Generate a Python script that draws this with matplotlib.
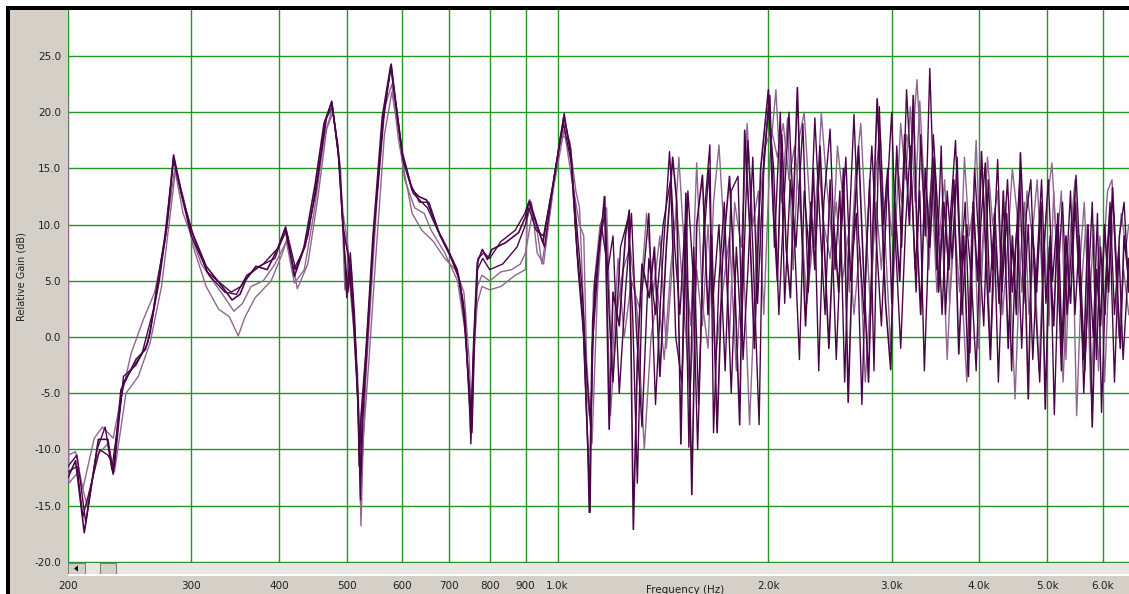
import numpy as np
import matplotlib.pyplot as plt
from matplotlib.patches import Rectangle, Polygon

# measured responses, frequency in Hz and relative gain in dB
freq_a = [200, 205, 211, 221, 228, 232, 238, 250, 258, 262, 268, 276, 283, 290, 300, 315, 332, 343, 352, 359,
          371, 385, 398, 409, 421, 434, 451, 464, 476, 486, 494, 503, 511, 519, 521, 524, 533, 545, 562, 578,
          591, 601, 620, 634, 650, 675, 697, 719, 733, 747, 753, 759, 768, 781, 794, 806, 843, 880, 900, 910,
          931, 953, 986, 1021, 1044, 1066, 1087, 1105, 1110, 1120, 1144, 1168,
          1185, 1200, 1225, 1250, 1266, 1283, 1300, 1320, 1352, 1375, 1400, 1430, 1460, 1480, 1500, 1525, 1555,
          1580, 1610, 1640, 1660, 1690, 1720, 1760, 1790, 1820, 1850, 1880, 1910, 1950, 2000, 2030, 2060, 2090,
          2120, 2150, 2200, 2230, 2260, 2300, 2330, 2370, 2400, 2440, 2480, 2520, 2560, 2600, 2640, 2690, 2730,
          2780, 2820, 2860, 2900, 2940, 2990, 3030, 3080, 3130, 3180, 3220, 3260, 3300, 3350, 3400, 3450, 3500,
          3560, 3620, 3680, 3740, 3800, 3860, 3920, 3980, 4030, 4090, 4150, 4210, 4270, 4330, 4400, 4460, 4520,
          4580, 4640, 4700, 4760, 4830, 4900, 4970, 5040, 5110, 5180, 5250, 5320, 5400, 5480, 5560, 5640, 5720,
          5800, 5880, 5960, 6040, 6120, 6200, 6280, 6360, 6440, 6540]
gain_a = [-12.5, -11.0, -17.4, -9.1, -9.1, -12.2, -4.7, -2.0, -1.1, 0.4, 4.5, 9.3, 16.2, 13.0, 9.5, 6.3, 4.5, 3.3, 3.8, 5.1,
          6.3, 6.0, 7.8, 9.8, 5.4, 7.8, 13.7, 19.0, 20.9, 16.7, 9.8, 7.1, 1.8, -5.6, -11.5, -7.1, -1.1, 8.9, 19.6, 24.2,
          19.6, 16.0, 13.1, 12.5, 12.2, 9.5, 7.8, 6.0, 3.1, -4.0, -7.1, -0.5, 6.6, 7.8, 6.9, 7.8, 8.4, 9.3, 10.7, 12.0,
          10.2, 8.4, 13.7, 19.6, 16.7, 7.8, 1.8, -10.0, -15.6, -1.1, 7.1, 12.5,
          -8.2, 4.0, 1.0, 9.0, 11.3, -17.1, -2.0, 6.5, 3.5, 8.0, -3.5, 8.0, 16.0, 12.0, -9.5, 12.8, -14.0,
          10.0, 14.4, 2.0, 9.0, -8.5, 7.0, 14.3, 5.0, -7.8, 18.4, 10.0, -1.0, 15.0, 22.0, 12.0, 5.0, 18.0,
          8.0, 3.5, 22.2, 10.0, 1.0, 12.0, 6.0, 17.0, 9.0, -1.0, 10.0, 4.0, 15.0, -5.8, 8.0, 17.0, 7.0,
          -4.0, 10.0, 21.2, 12.0, 3.0, -2.9, 12.0, 5.0, 18.0, 10.0, 21.5, 9.0, 2.0, 15.0, 8.0, 16.0, 4.0,
          12.0, 6.0, 14.0, -1.5, 9.0, -3.5, 12.0, 5.0, 16.5, 7.0, -2.0, 11.0, 3.0, 13.0, -1.0, 9.0, 2.0,
          16.4, 8.0, -5.5, 10.0, 4.0, 12.0, -6.4, 8.0, 1.0, 11.0, -1.0, 9.0, 3.0, 12.0, 5.0, -2.0, 10.0,
          -8.0, 6.0, 1.0, 10.0, 4.0, 13.3, 6.0, -1.0, 9.0, 5.0]

freq_b = [200, 206, 212, 220, 226, 231, 240, 255, 265, 275, 283, 292, 300, 318, 335, 348, 360, 380, 400, 410,
          423, 440, 455, 468, 477, 488, 496, 502, 507, 515, 520, 523, 527, 535, 548, 565, 579, 592, 603, 622,
          640, 652, 680, 700, 722, 738, 749, 755, 762, 770, 785, 800, 830, 870, 898, 912, 935, 958, 990, 1020,
          1046, 1070, 1090, 1108, 1113, 1122, 1150, 1170,
          1185, 1200, 1230, 1260, 1280, 1300, 1320, 1350, 1380, 1410, 1445, 1470, 1495, 1520, 1540, 1565, 1590,
          1620, 1650, 1670, 1700, 1730, 1770, 1800, 1830, 1870, 1900, 1940, 1970, 2010, 2040, 2080, 2110, 2150,
          2190, 2240, 2280, 2320, 2360, 2400, 2450, 2490, 2530, 2570, 2610, 2650, 2690, 2740, 2790, 2830, 2880,
          2920, 2960, 3000, 3050, 3100, 3150, 3200, 3250, 3300, 3350, 3400, 3440, 3480, 3530, 3580, 3640, 3700,
          3760, 3820, 3880, 3940, 4000, 4060, 4120, 4180, 4250, 4310, 4380, 4450, 4510, 4570, 4630, 4700, 4770,
          4840, 4910, 4980, 5050, 5120, 5190, 5260, 5340, 5420, 5500, 5580, 5660, 5740, 5820, 5900, 5980, 6060,
          6150, 6240, 6330, 6420, 6540]
gain_b = [-11.5, -10.5, -16.5, -10.0, -8.0, -11.8, -4.0, -1.5, 2.5, 9.0, 15.8, 12.0, 9.0, 5.5, 4.0, 3.8, 5.5, 6.5, 8.0, 9.5,
          6.0, 9.0, 14.5, 19.5, 20.5, 15.5, 8.0, 4.0, 6.5, -1.0, -8.0, -12.5, -6.0, 0.5, 10.0, 20.0, 24.3, 19.0, 15.5, 12.8,
          12.0, 11.5, 9.0, 7.5, 5.5, 1.0, -6.0, -8.5, 1.0, 7.0, 7.5, 7.0, 8.5, 9.5, 11.0, 12.2, 10.0, 8.0, 14.5, 19.0,
          15.5, 6.0, 0.0, -12.0, -15.6, 1.5, 9.0, 11.0,
          2.0, -4.0, 8.0, 10.5, 2.0, -13.0, 4.0, 11.0, -6.0, 6.0, 16.5, 8.0, 2.0, 10.0, -9.8, 8.0, -6.0,
          11.0, 17.1, -8.5, 5.0, 12.0, -5.0, 8.0, 0.0, 17.5, 8.0, -7.8, 16.0, 21.5, 8.0, 20.0, 3.0, 14.0,
          8.0, 19.0, 4.0, 15.0, -3.0, 12.0, 18.5, 6.0, 13.0, -4.0, 10.0, 19.8, 9.0, 2.0, 14.0, -3.0, 20.5,
          10.0, 15.0, 3.0, 17.0, 8.0, 22.0, 14.0, 4.0, 18.0, 9.0, 23.9, 14.0, 6.0, 17.0, 2.0, 11.0, 17.5,
          6.0, 12.0, -1.4, 15.0, 8.0, 1.0, 14.0, 6.0, 15.8, 4.0, 11.0, -3.0, 8.0, 14.0, 3.0, 10.0, -2.0,
          7.0, 14.0, 3.0, 9.0, -6.9, 6.0, 12.0, 2.0, 8.0, 14.4, 6.0, -3.0, 7.0, 0.0, 11.0, -6.7, 5.0,
          12.0, 2.0, 8.0, -2.0, 7.0]

freq_c = [200, 200.5, 207, 213, 220, 228, 233, 242, 252, 262, 272, 280, 285, 292, 302, 315, 328, 340, 350, 358,
          370, 390, 405, 412, 425, 440, 455, 468, 478, 490, 497, 503, 512, 520, 524, 528, 538, 550, 566, 580,
          594, 605, 625, 645, 660, 690, 720, 740, 752, 758, 768, 780, 800, 830, 870, 900, 905, 918, 935, 955,
          985, 1022, 1048, 1075, 1090, 1100, 1120, 1140, 1165,
          1190, 1215, 1240, 1270, 1300, 1330, 1360, 1390, 1420, 1450, 1480, 1510, 1545, 1580, 1610, 1640, 1680,
          1720, 1760, 1800, 1840, 1880, 1930, 1980, 2020, 2060, 2100, 2140, 2180, 2230, 2270, 2310, 2360, 2400,
          2450, 2500, 2550, 2600, 2650, 2700, 2750, 2800, 2850, 2900, 2950, 3000, 3050, 3100, 3150, 3200, 3260,
          3310, 3360, 3420, 3480, 3540, 3600, 3660, 3720, 3780, 3840, 3900, 3960, 4020, 4080, 4150, 4220, 4290,
          4360, 4430, 4500, 4570, 4640, 4710, 4790, 4870, 4950, 5030, 5110, 5190, 5270, 5350, 5430, 5510, 5590,
          5680, 5770, 5860, 5950, 6040, 6130, 6230, 6330, 6430, 6540]
gain_c = [21.3, -13.0, -12.0, -15.0, -10.5, -9.5, -12.0, -5.0, -3.5, -0.5, 4.5, 11.0, 15.0, 12.5, 8.0, 4.5, 2.5, 1.8, 0.1, 1.8,
          3.5, 5.0, 7.5, 9.0, 4.3, 6.5, 12.5, 18.5, 20.0, 15.0, 4.2, 6.0, 0.5, -7.0, -16.8, -9.0, -2.0, 7.0, 18.0, 21.8,
          18.0, 14.0, 11.5, 11.0, 9.5, 7.5, 5.0, 0.0, -9.0, -2.0, 3.0, 4.5, 4.2, 4.5, 5.5, 6.0, 10.5, 12.0, 7.5, 6.5,
          13.0, 18.5, 14.0, 10.0, 9.0, -2.0, -9.5, 4.0, 12.5,
          -7.0, 2.0, 6.0, 8.0, 2.0, -10.0, 0.0, 4.0, -2.0, 6.0, 11.5, 4.0, -5.0, 6.0, 1.0, 10.0, -2.0,
          4.0, 9.0, -3.0, 8.2, -7.8, 10.0, 17.0, 18.5, 16.0, 19.0, 14.0, 17.0, 10.0, 3.0, 8.0, 15.5, 10.0,
          7.0, 12.0, 5.0, 9.0, 2.0, 8.0, -4.0, 4.0, 12.0, 6.0, 14.0, 9.0, 16.0, 12.0, 18.0, 16.0, 22.9,
          15.0, 9.0, 14.0, 4.0, 10.0, -2.0, 8.0, 14.0, 4.0, -4.0, 9.0, 17.5, 6.0, 12.0, -1.0, 8.0, 2.0,
          12.0, 5.0, -5.5, 6.0, 12.0, 2.0, 8.0, -3.0, 9.0, 1.0, 13.0, 4.0, -4.0, 6.0, 11.0, -7.0, 4.0,
          10.0, -5.0, 3.0, 9.0, -4.0, 6.0, 11.0, 0.0, 6.0, 2.0]

freq_d = [200, 206, 210, 216, 222, 228, 233, 240, 250, 260, 270, 277, 283, 291, 302, 316, 330, 342, 353, 362,
          375, 395, 408, 420, 436, 452, 466, 476, 487, 495, 500, 506, 513, 519, 523, 527, 535, 546, 563, 578,
          590, 600, 618, 635, 655, 680, 705, 725, 737, 748, 752, 759, 768, 782, 800, 835, 875, 900, 910, 932,
          955, 988, 1022, 1045, 1068, 1085, 1100, 1115, 1130, 1155,
          1180, 1200, 1225, 1250, 1275, 1295, 1320, 1350, 1380, 1415, 1450, 1475, 1505, 1535, 1560, 1585, 1615,
          1645, 1665, 1700, 1735, 1770, 1810, 1840, 1870, 1900, 1930, 1965, 2000, 2035, 2070, 2105, 2140, 2175,
          2215, 2250, 2290, 2330, 2370, 2410, 2450, 2500, 2540, 2580, 2620, 2670, 2720, 2760, 2810, 2850, 2900,
          2950, 3000, 3040, 3090, 3140, 3190, 3240, 3290, 3340, 3390, 3440, 3490, 3540, 3600, 3660, 3720, 3780,
          3840, 3900, 3960, 4020, 4080, 4140, 4200, 4260, 4320, 4390, 4460, 4530, 4600, 4670, 4740, 4810, 4880,
          4950, 5020, 5090, 5160, 5240, 5320, 5400, 5480, 5560, 5640, 5720, 5800, 5880, 5960, 6050, 6140, 6240,
          6340, 6440, 6540]
gain_d = [-12.0, -11.5, -16.0, -13.0, -10.0, -10.5, -11.5, -3.5, -2.5, -0.5, 5.0, 10.0, 16.0, 12.5, 9.0, 5.8, 4.8, 4.0, 4.5, 5.5,
          6.3, 7.0, 9.6, 6.0, 8.0, 13.0, 19.2, 21.0, 16.0, 9.0, 3.5, 7.5, 2.0, -6.0, -14.5, -7.5, -0.5, 9.0, 19.0, 24.0,
          20.0, 16.5, 13.5, 12.0, 12.0, 9.0, 7.0, 5.0, 2.0, -5.0, -9.5, -1.0, 6.0, 7.0, 6.0, 6.5, 8.0, 10.0, 11.5, 9.5,
          9.0, 14.0, 19.9, 16.0, 9.0, 4.0, -3.0, -8.0, 5.0, 10.0,
          6.0, 9.0, -5.0, 4.0, 11.0, 1.0, -8.0, 7.0, 2.0, 10.0, 14.0, 0.0, -4.0, 13.0, 6.0, -10.0, 8.0,
          15.0, 3.0, 10.0, -3.0, 13.0, 14.3, -2.0, 6.0, 16.0, 3.0, 14.0, 20.5, 15.0, 2.0, 12.0, 20.0, 10.0,
          -2.0, 13.0, 7.0, 19.5, 10.0, 2.0, 14.0, -2.0, 9.0, 16.0, 5.0, 11.0, -6.0, 8.0, 17.0, 9.0, 1.0,
          12.0, 20.0, 8.0, -1.0, 10.0, 17.0, 6.0, 13.0, -3.0, 9.0, 18.0, 11.0, 2.0, 13.0, 7.0, 16.0, 2.0,
          10.0, 5.0, -3.0, 10.0, 15.5, 4.0, 10.0, -4.0, 7.0, 14.0, 4.0, 10.0, -1.0, 11.0, 14.0, 3.0, -4.0,
          8.0, 14.0, 5.0, 10.0, -3.0, 5.0, 13.0, 2.0, 9.0, -5.0, 4.0, 12.0, -2.0, 8.0, 2.0, 11.0, -4.0,
          9.0, 12.0, 4.0]

freq_e = [200, 205, 210, 218, 224, 232, 238, 246, 256, 266, 275, 284, 292, 300, 310, 322, 335, 345, 355, 365,
          380, 395, 410, 421, 435, 450, 465, 477, 486, 494, 501, 510, 518, 522, 527, 532, 540, 552, 567, 580,
          593, 605, 620, 640, 665, 690, 715, 735, 748, 754, 760, 768, 780, 800, 830, 860, 885, 900, 920, 930,
          950, 975, 1010, 1040, 1062, 1075, 1085, 1100, 1110, 1118, 1125, 1150,
          1175, 1195, 1220, 1245, 1275, 1310, 1340, 1370, 1400, 1430, 1465, 1490, 1520, 1550, 1580, 1610, 1640,
          1670, 1700, 1730, 1760, 1790, 1830, 1865, 1900, 1935, 1970, 2010, 2050, 2090, 2130, 2170, 2210, 2250,
          2290, 2330, 2380, 2420, 2470, 2510, 2560, 2610, 2660, 2710, 2750, 2800, 2850, 2890, 2940, 2990, 3040,
          3090, 3140, 3190, 3240, 3290, 3340, 3390, 3450, 3510, 3570, 3630, 3690, 3750, 3810, 3870, 3930, 3990,
          4050, 4110, 4180, 4250, 4320, 4390, 4460, 4530, 4600, 4680, 4760, 4840, 4920, 5000, 5080, 5160, 5240,
          5320, 5400, 5480, 5560, 5650, 5740, 5830, 5920, 6010, 6100, 6190, 6280, 6380, 6480, 6540]
gain_e = [-10.5, -10.2, -13.5, -9.0, -8.0, -9.0, -5.5, -1.5, 1.5, 4.0, 8.5, 15.0, 11.0, 9.0, 6.5, 5.0, 3.5, 2.3, 3.0, 4.5,
          5.0, 6.5, 8.5, 4.8, 6.0, 11.5, 18.0, 20.3, 17.0, 11.0, 8.5, 3.0, -3.0, -9.0, -10.5, -4.0, 2.5, 12.0, 20.5, 22.5,
          17.5, 14.5, 11.0, 9.5, 8.5, 7.0, 6.0, 4.0, -2.0, -8.0, -1.5, 4.5, 5.5, 5.0, 5.8, 6.0, 6.5, 7.5, 11.0, 10.5,
          6.5, 11.0, 18.0, 17.5, 13.0, 11.5, 5.0, -4.5, -7.0, -6.0, 4.0, 10.0,
          11.5, -3.0, 7.0, 0.0, 5.0, 2.5, 11.0, 4.0, 9.0, -1.0, 8.0, 16.0, 7.0, 1.0, 15.5, 3.0, -1.0,
          12.0, 17.1, 9.0, 0.0, 12.0, 8.0, 19.0, 10.0, 13.0, 2.0, 16.0, 22.0, 12.0, 19.5, 6.0, 17.5, 20.0,
          12.0, 8.0, 20.0, 14.0, 8.0, 17.0, 12.0, 4.0, 14.0, 19.0, 11.0, 2.0, 15.0, 18.0, 8.0, -1.0, 10.0,
          19.0, 14.0, 20.5, 12.0, 21.0, 13.0, 6.0, 16.0, 9.0, 14.0, 3.0, 10.0, 4.0, 16.0, 9.0, 12.0, -1.0,
          8.0, 16.0, 10.0, 13.0, 2.0, 8.0, 15.0, 11.0, 4.0, 13.0, 9.0, 14.0, 5.0, 12.0, 15.5, 8.0, 13.0,
          -2.0, 9.0, 14.0, 6.0, 12.0, 2.0, 10.0, -3.0, 7.0, 13.0, 14.0, 5.0, 11.0, 8.0, 10.0]

x_ticks = [200, 300, 400, 500, 600, 700, 800, 900, 1000, 2000, 3000, 4000, 5000, 6000]
x_labels = ['200', '300', '400', '500', '600', '700', '800', '900', '1.0k', '2.0k', '3.0k', '4.0k', '5.0k', '6.0k']
y_ticks = [-20, -15, -10, -5, 0, 5, 10, 15, 20, 25]

W, H = 1129, 594
fig = plt.figure(figsize=(W / 100, H / 100), dpi=100, facecolor='white')

def px(x0, y0, w, h):
    # pixel box (top-left origin) -> figure fraction rect
    return [x0 / W, 1 - (y0 + h) / H, w / W, h / H]

# grey window panel and black frame, kept behind the axes
fig.patches.append(Rectangle((10 / W, 0), 1, 1 - 10 / H, transform=fig.transFigure,
                             facecolor='#d4d0c8', edgecolor='none', zorder=-3))
fig.patches.append(Rectangle((6 / W, 0), 4 / W, 1 - 6 / H, transform=fig.transFigure,
                             facecolor='black', edgecolor='none', zorder=-2))
fig.patches.append(Rectangle((6 / W, 1 - 10 / H), 1, 4 / H, transform=fig.transFigure,
                             facecolor='black', edgecolor='none', zorder=-2))

ax = fig.add_axes(px(68, 10, W - 68, 553))
ax.set_facecolor('white')
ax.set_xscale('log')
ax.set_xlim(200, 6545)
ax.set_ylim(-20.1, 29.1)

grid_col = '#229622'
for v in x_ticks:
    ax.axvline(v, color=grid_col, lw=1.0, zorder=1)
for v in y_ticks:
    ax.axhline(v, color=grid_col, lw=1.0, zorder=1)

dark = '#4a0548'
light = '#8e6790'
ax.plot(freq_c, gain_c, color=light, lw=1.0, zorder=2)
ax.plot(freq_e, gain_e, color=light, lw=1.0, zorder=2)
ax.plot(freq_d, gain_d, color=dark, lw=1.0, zorder=3)
ax.plot(freq_b, gain_b, color=dark, lw=1.0, zorder=3)
ax.plot(freq_a, gain_a, color=dark, lw=1.2, zorder=4)

ax.set_xticks(x_ticks)
ax.set_xticklabels(x_labels)
ax.xaxis.set_minor_locator(plt.NullLocator())
ax.xaxis.set_minor_formatter(plt.NullFormatter())
ax.set_yticks(y_ticks)
ax.set_yticklabels([f'{v:.1f}' for v in y_ticks])
ax.tick_params(axis='x', length=0, pad=13, labelsize=7.5, labelcolor='#202020')
ax.tick_params(axis='y', length=0, pad=5, labelsize=7.5, labelcolor='#202020')
for s in ax.spines.values():
    s.set_visible(False)

# scrollbar strip under the plot
sb = fig.add_axes(px(68, 563, W - 68, 11))
sb.set_facecolor('#e8e6e1')
sb.set_xticks([])
sb.set_yticks([])
for s in sb.spines.values():
    s.set_visible(False)
fig.patches.append(Rectangle((68 / W, 1 - 574 / H), 17 / W, 11 / H, transform=fig.transFigure,
                             facecolor='#d4d0c8', edgecolor='#808080', lw=0.8, zorder=5))
fig.patches.append(Polygon([(74 / W, 1 - 568.5 / H), (78 / W, 1 - 565.5 / H), (78 / W, 1 - 571.5 / H)],
                           closed=True, transform=fig.transFigure, facecolor='black', zorder=6))
fig.patches.append(Rectangle((100 / W, 1 - 574 / H), 16 / W, 11 / H, transform=fig.transFigure,
                             facecolor='#d4d0c8', edgecolor='#808080', lw=0.8, zorder=5))
fig.patches.append(Rectangle((68 / W, 1 - 575.5 / H), 1, 1.5 / H, transform=fig.transFigure,
                             facecolor='white', edgecolor='none', zorder=5))

fig.text(22 / W, 1 - 277 / H, 'Relative Gain (dB)', rotation=90, ha='center', va='center',
         fontsize=7, color='#202020')
fig.text(685 / W, 1 - 590 / H, 'Frequency (Hz)', ha='center', va='center', fontsize=7.5, color='#202020')

fig.savefig('out.png', dpi=100, facecolor=fig.get_facecolor())
